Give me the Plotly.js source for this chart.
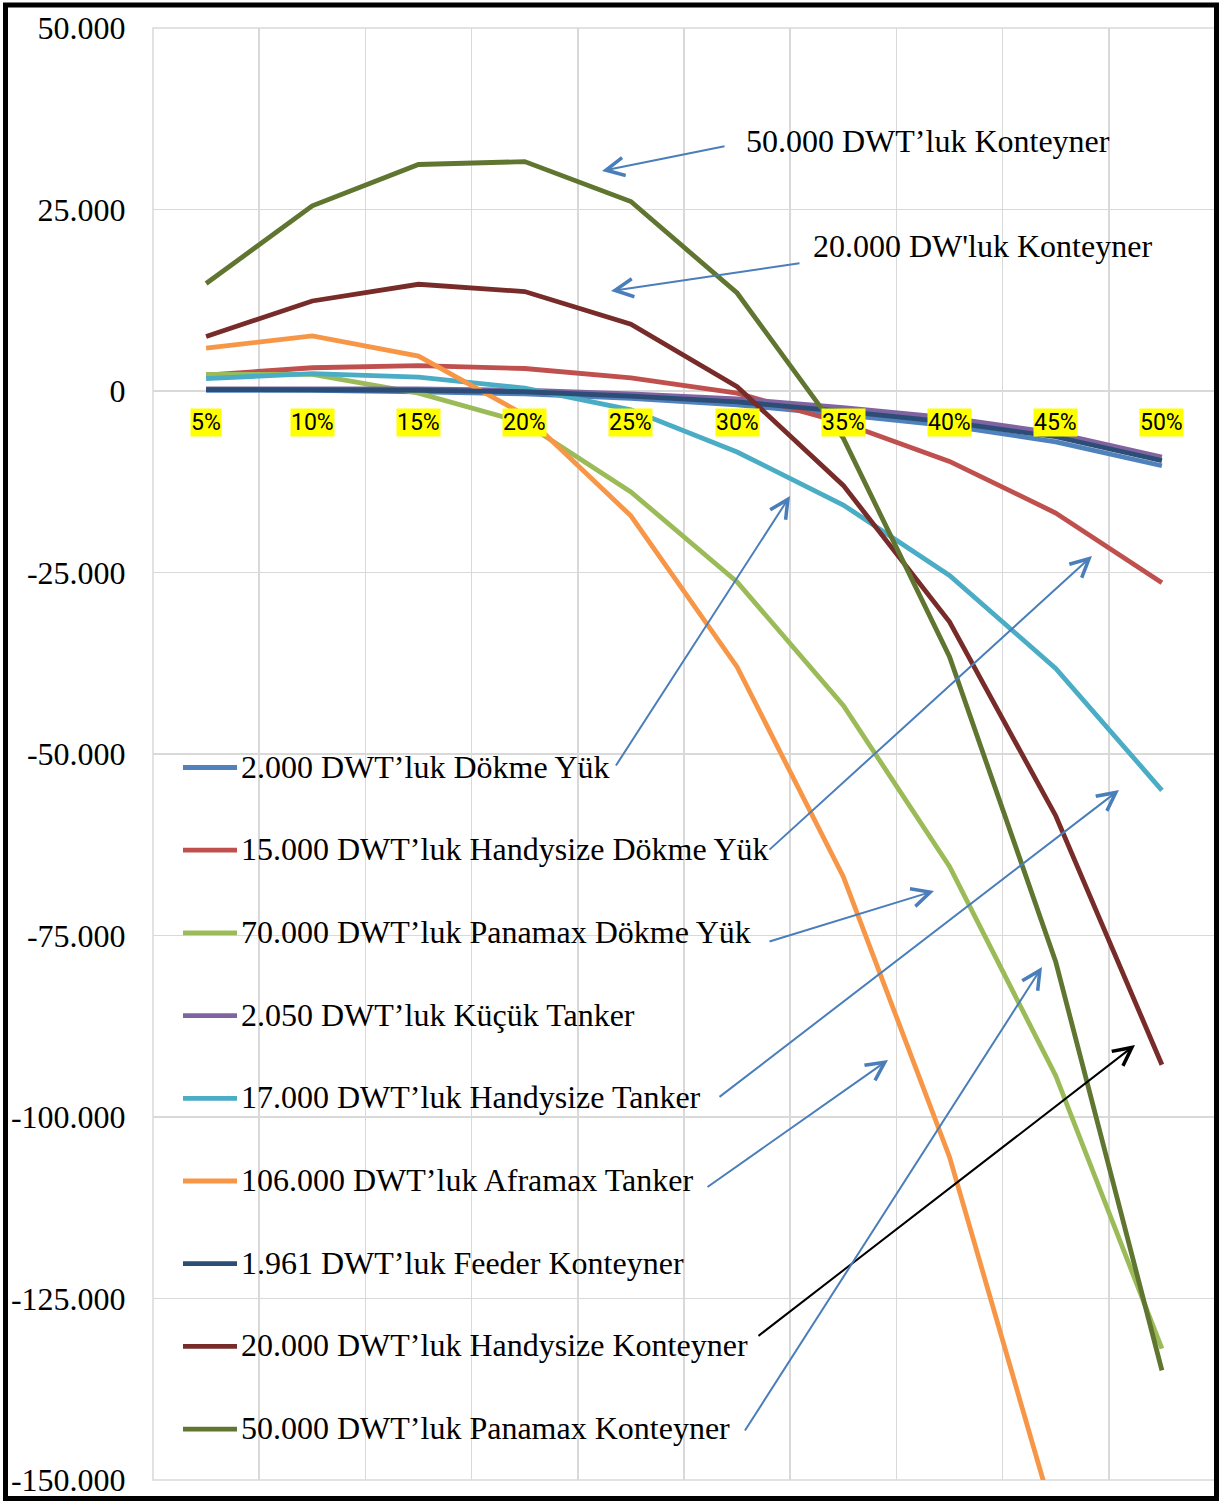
<!DOCTYPE html>
<html>
<head>
<meta charset="utf-8">
<script src="https://cdn.plot.ly/plotly-3.0.1.min.js"></script>
<style>
  html, body { margin: 0; padding: 0; background: #ffffff; }
  #chart { width: 1230px; height: 1501px; }
</style>
</head>
<body>
<div id="chart"></div>
<script>
// Fuel-price change scenarios (x) and result per ship type (y)
const categories = ['5%', '10%', '15%', '20%', '25%', '30%', '35%', '40%', '45%', '50%'];

const seriesNames = [
  '2.000 DWT’luk Dökme Yük',
  '15.000 DWT’luk Handysize Dökme Yük',
  '70.000 DWT’luk Panamax Dökme Yük',
  '2.050 DWT’luk Küçük Tanker',
  '17.000 DWT’luk Handysize Tanker',
  '106.000 DWT’luk Aframax Tanker',
  '1.961 DWT’luk Feeder Konteyner',
  '20.000 DWT’luk Handysize Konteyner',
  '50.000 DWT’luk Panamax Konteyner'
];

const dokmeYuk2000      = [100, 100, -100, -400, -1000, -1900, -3300, -4800, -7000, -10300];
const handysizeDokme    = [2200, 3200, 3500, 3100, 1800, -300, -4400, -9700, -16800, -26400];
const panamaxDokme      = [2300, 2300, -300, -4400, -13900, -26300, -43300, -65500, -94300, -131900];
const kucukTanker       = [300, 300, 300, 100, -400, -1100, -2300, -3700, -5800, -9100];
const handysizeTanker   = [1700, 2400, 1900, 400, -2600, -8400, -15700, -25400, -38200, -55000];
const aframaxTanker     = [5900, 7600, 4800, -3300, -17200, -38000, -66900, -105500, -156000, -215000];
const feederKonteyner   = [200, 200, 100, -100, -700, -1500, -2800, -4300, -6300, -9600];
const handysizeKonteyner = [7500, 12400, 14700, 13700, 9200, 600, -13000, -31800, -58500, -92800];
const panamaxKonteyner  = [14800, 25500, 31200, 31600, 26100, 13500, -6500, -36600, -78600, -134900];

const yTickValues = [50000, 25000, 0, -25000, -50000, -75000, -100000, -125000, -150000];
const yTickLabels = ['50.000', '25.000', '0', '-25.000', '-50.000', '-75.000', '-100.000', '-125.000', '-150.000'];

const calloutTexts = ['50.000 DWT’luk Konteyner', "20.000 DW'luk Konteyner"];

const seriesValues = [dokmeYuk2000, handysizeDokme, panamaxDokme, kucukTanker, handysizeTanker,
                      aframaxTanker, feederKonteyner, handysizeKonteyner, panamaxKonteyner];
const seriesColors = ['#4F81BD', '#C0504D', '#9BBB59', '#8064A2', '#4BACC6',
                      '#F79646', '#2C4D75', '#772C2A', '#5F7530'];

// figure geometry (pixels)
const FIG_W = 1230, FIG_H = 1501;
const M = { l: 153, r: 15, t: 28, b: 21 };
const PW = FIG_W - M.l - M.r, PH = FIG_H - M.t - M.b;
const px2paperX = px => (px - M.l) / PW;
const px2paperY = py => (FIG_H - M.b - py) / PH;

const serif = 'Liberation Serif, Times New Roman, serif';
const gridColor = '#D9D9D9';

const traces = seriesValues.map((vals, i) => ({
  type: 'scatter',
  mode: 'lines',
  x: categories,
  y: vals,
  name: seriesNames[i],
  line: { color: seriesColors[i], width: 4.8 },
  showlegend: false,
  hoverinfo: 'skip'
}));

const annotations = [];
const shapes = [];

// plot-area border in grid colour (edge gridlines)
shapes.push({
  type: 'rect', xref: 'paper', yref: 'paper', layer: 'below',
  x0: 0, x1: 1, y0: 0, y1: 1,
  line: { color: gridColor, width: 1.5 }, fillcolor: 'rgba(0,0,0,0)'
});

// category labels on yellow boxes just below the zero line
categories.forEach((c, i) => {
  annotations.push({
    xref: 'x', yref: 'y', x: i, y: 0,
    text: c, showarrow: false,
    xanchor: 'center', yanchor: 'middle', yshift: -31,
    bgcolor: '#FFFF00', borderpad: 0,
    font: { family: 'Roboto, Liberation Sans, sans-serif', size: 23, color: '#000000' }
  });
});

// in-plot legend
const legendTop = 767.5, legendStep = 82.7;
seriesNames.forEach((n, i) => {
  const y = legendTop + i * legendStep;
  shapes.push({
    type: 'line', xref: 'paper', yref: 'paper',
    x0: px2paperX(183), x1: px2paperX(237), y0: px2paperY(y), y1: px2paperY(y),
    line: { color: seriesColors[i], width: 4.8 }
  });
  annotations.push({
    xref: 'paper', yref: 'paper', x: px2paperX(239), y: px2paperY(y - 1),
    text: n, showarrow: false, xanchor: 'left', yanchor: 'middle',
    font: { family: serif, size: 32, color: '#000000' }
  });
});

// callout labels
annotations.push({
  xref: 'paper', yref: 'paper', x: px2paperX(744), y: px2paperY(141),
  text: calloutTexts[0], showarrow: false, xanchor: 'left', yanchor: 'middle',
  font: { family: serif, size: 32, color: '#000000' }
});
annotations.push({
  xref: 'paper', yref: 'paper', x: px2paperX(811), y: px2paperY(246),
  text: calloutTexts[1], showarrow: false, xanchor: 'left', yanchor: 'middle',
  font: { family: serif, size: 32, color: '#000000' }
});

// pointer arrows: [tailX, tailY, tipX, tipY, colour]
const arrows = [
  [726, 146, 602, 171, '#4A7EBB'],
  [801, 263, 611, 291, '#4A7EBB'],
  [615, 767, 790, 496, '#4A7EBB'],
  [768, 851, 1092, 556, '#4A7EBB'],
  [768, 942, 934, 891, '#4A7EBB'],
  [718, 1098, 1119, 790, '#4A7EBB'],
  [706, 1188, 888, 1060, '#4A7EBB'],
  [757, 1337, 1135, 1045, '#000000'],
  [744, 1432, 1042, 967, '#4A7EBB']
];
arrows.forEach(a => {
  annotations.push({
    xref: 'paper', yref: 'paper', x: px2paperX(a[2]), y: px2paperY(a[3]),
    axref: 'pixel', ayref: 'pixel', ax: a[0] - a[2], ay: a[1] - a[3],
    text: '', showarrow: true, arrowhead: 5, arrowsize: 1.8, arrowwidth: 2,
    arrowcolor: a[4], standoff: 0, startstandoff: 0
  });
});

// outer frame
shapes.push({
  type: 'rect', xref: 'paper', yref: 'paper', layer: 'above',
  x0: px2paperX(5.5), x1: px2paperX(1216.5), y0: px2paperY(1498.5), y1: px2paperY(5),
  line: { color: '#000000', width: 5 }, fillcolor: 'rgba(0,0,0,0)'
});

const layout = {
  width: FIG_W, height: FIG_H,
  margin: M,
  paper_bgcolor: '#ffffff', plot_bgcolor: '#ffffff',
  showlegend: false,
  xaxis: {
    type: 'category', range: [-0.5, 9.5], tickson: 'boundaries',
    showgrid: true, gridcolor: gridColor, gridwidth: 1.5,
    showticklabels: false, ticks: '', zeroline: false, showline: false, fixedrange: true
  },
  yaxis: {
    range: [-150000, 50000], tickvals: yTickValues, ticktext: yTickLabels,
    showgrid: true, gridcolor: gridColor, gridwidth: 1.5,
    zeroline: false, showline: false,
    ticks: 'outside', ticklen: 20, tickcolor: 'rgba(0,0,0,0)',
    tickfont: { family: serif, size: 32, color: '#000000' }, fixedrange: true
  },
  annotations: annotations,
  shapes: shapes
};

Plotly.newPlot('chart', traces, layout, { staticPlot: true, displayModeBar: false });
</script>
</body>
</html>
